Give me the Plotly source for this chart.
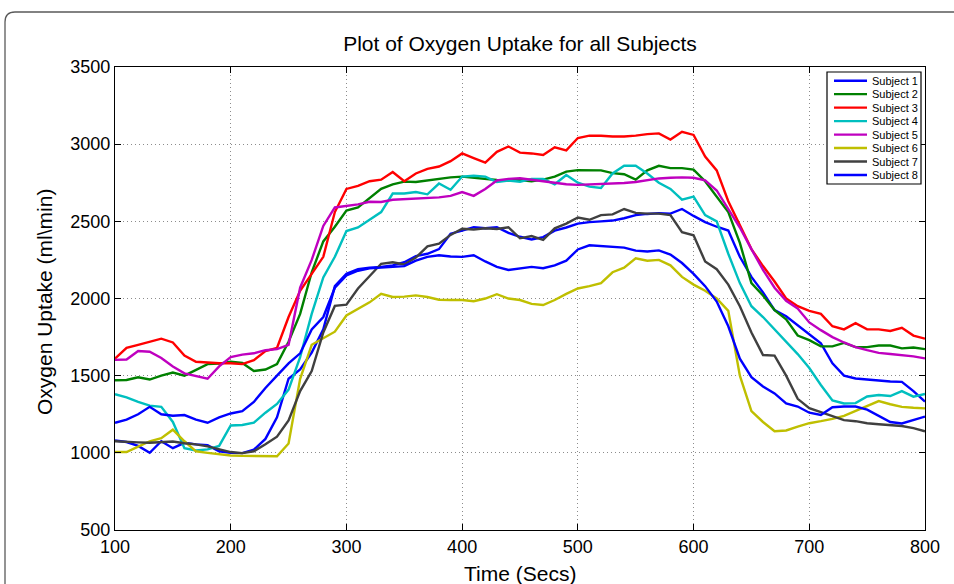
import plotly.graph_objects as go

time_s = list(range(100, 801, 10))

subject1 = [1080, 1070, 1045, 1000, 1075, 1030, 1065, 1055, 1050, 1010, 1000, 998, 1020, 1090, 1230, 1480,
            1540, 1650, 1800, 2080, 2160, 2190, 2200, 2205, 2215, 2235, 2275, 2290, 2320, 2420, 2440, 2462,
            2455, 2462, 2425, 2400, 2382, 2398, 2440, 2460, 2485, 2495, 2500, 2505, 2520, 2540, 2548, 2553,
            2550, 2580, 2535, 2495, 2465, 2440, 2270, 2140, 2040, 1925, 1885, 1825, 1770, 1710, 1580, 1500,
            1482, 1475, 1468, 1462, 1460, 1400, 1332]
subject2 = [1470, 1472, 1490, 1475, 1500, 1520, 1500, 1540, 1575, 1578, 1590, 1582, 1530, 1540, 1575, 1720,
            1900, 2170, 2370, 2465, 2570, 2590, 2650, 2710, 2740, 2757, 2755, 2765, 2778, 2785, 2790, 2782,
            2776, 2768, 2765, 2768, 2760, 2770, 2790, 2822, 2832, 2830, 2830, 2812, 2805, 2770, 2830, 2860,
            2845, 2845, 2835, 2760, 2660, 2560, 2360, 2100, 2020, 1925, 1865, 1760, 1730, 1690, 1690, 1712,
            1685, 1685, 1695, 1695, 1677, 1682, 1672]
subject3 = [1610, 1680, 1700, 1720, 1740, 1715, 1630, 1590, 1585, 1580, 1580, 1575, 1600, 1660, 1680, 1880,
            2050, 2160, 2270, 2560, 2710, 2730, 2760, 2770, 2820, 2760, 2810, 2840, 2855, 2890, 2940, 2910,
            2880, 2950, 2985, 2945, 2940, 2930, 2980, 2960, 3040, 3055, 3055, 3050, 3050, 3055, 3065, 3070,
            3030, 3080, 3060, 2920, 2830, 2630, 2470, 2320, 2210, 2110, 2000, 1950, 1920, 1900, 1820, 1800,
            1840, 1800, 1800, 1790, 1810, 1760, 1740]
subject4 = [1380, 1360, 1330, 1306, 1298, 1200, 1030, 1015, 1022, 1045, 1177, 1180, 1195, 1260, 1317, 1410,
            1620, 1900, 2136, 2270, 2437, 2460, 2510, 2560, 2680, 2680, 2690, 2675, 2745, 2705, 2790, 2795,
            2790, 2755, 2765, 2757, 2775, 2775, 2740, 2800, 2750, 2725, 2716, 2810, 2860, 2860, 2810, 2750,
            2710, 2640, 2660, 2540, 2500, 2290, 2100, 1950, 1880, 1800, 1720, 1640, 1550, 1440, 1340, 1320,
            1322, 1365, 1375, 1368, 1400, 1364, 1381]
subject5 = [1602, 1605, 1660, 1655, 1615, 1560, 1515, 1500, 1480, 1560, 1620, 1636, 1645, 1665, 1672, 1700,
            2070, 2250, 2470, 2590, 2602, 2610, 2627, 2625, 2640, 2643, 2645, 2650, 2655, 2665, 2690, 2665,
            2710, 2765, 2775, 2779, 2770, 2760, 2748, 2740, 2736, 2738, 2740, 2745, 2748, 2755, 2765, 2778,
            2782, 2785, 2782, 2765, 2700, 2580, 2460, 2320, 2185, 2070, 1985, 1935, 1845, 1795, 1750, 1715,
            1685, 1665, 1648, 1640, 1633, 1625, 1612]
subject6 = [1005, 1005, 1040, 1075, 1095, 1150, 1075, 1010, 1000, 990, 983, 980, 978, 978, 978, 1060,
            1480, 1700, 1745, 1785, 1890, 1935, 1975, 2030, 2010, 2012, 2020, 2010, 1992, 1990, 1990, 1982,
            2000, 2028, 2000, 1990, 1965, 1958, 1990, 2030, 2065, 2080, 2100, 2170, 2200, 2260, 2245, 2250,
            2215, 2140, 2090, 2050, 2000, 1920, 1500, 1270, 1200, 1140, 1145, 1170, 1192, 1205, 1220, 1240,
            1270, 1300, 1335, 1315, 1298, 1292, 1288]
subject7 = [1075, 1070, 1068, 1065, 1070, 1073, 1062, 1055, 1042, 1022, 1005, 998, 1010, 1055, 1105, 1210,
            1400, 1530, 1780, 1952, 1960, 2065, 2145, 2225, 2235, 2220, 2265, 2338, 2355, 2412, 2452, 2447,
            2455, 2450, 2462, 2390, 2405, 2380, 2455, 2485, 2525, 2510, 2540, 2545, 2580, 2555, 2550, 2550,
            2540, 2430, 2410, 2240, 2190, 2090, 1950, 1780, 1634, 1630, 1500, 1350, 1290, 1265, 1240, 1212,
            1205, 1192, 1185, 1180, 1174, 1160, 1140]
subject8 = [1195, 1215, 1250, 1298, 1250, 1240, 1245, 1215, 1195, 1230, 1255, 1270, 1330, 1420, 1500, 1580,
            1645, 1800, 1880, 2070, 2150, 2180, 2195, 2200, 2205, 2210, 2245, 2270, 2280, 2272, 2270, 2280,
            2240, 2205, 2185, 2196, 2205, 2196, 2215, 2245, 2318, 2345, 2340, 2335, 2330, 2310, 2305, 2312,
            2285, 2230, 2160, 2080, 1980, 1820, 1610, 1490, 1430, 1385, 1320, 1300, 1260, 1245, 1295, 1300,
            1300, 1280, 1240, 1200, 1190, 1210, 1235]

names = ["Subject 1", "Subject 2", "Subject 3", "Subject 4",
         "Subject 5", "Subject 6", "Subject 7", "Subject 8"]
series = [subject1, subject2, subject3, subject4, subject5, subject6, subject7, subject8]
colors = ["#0000FF", "#008000", "#FF0000", "#00BFBF", "#BF00BF", "#BFBF00", "#404040", "#0000FF"]

x_ticks = [100, 200, 300, 400, 500, 600, 700, 800]
y_ticks = [500, 1000, 1500, 2000, 2500, 3000, 3500]

FONT = "Liberation Sans, Arial, Helvetica, sans-serif"

fig = go.Figure()
for name, ys, col in zip(names, series, colors):
    fig.add_trace(go.Scatter(x=time_s, y=ys, mode="lines", name=name,
                             line=dict(color=col, width=2.4), showlegend=False))

W, H = 954, 584
ML, MR, MT, MB = 115, 29, 67, 54
PW, PH = W - ML - MR, H - MT - MB


def px2paper(px, py):
    return (px - ML) / PW, (H - MB - py) / PH


# outer rounded frame of the figure panel
x0, yt = px2paper(5, 12)
x1, yb = px2paper(975, 605)
rx, ry = 10 / PW, 10 / PH
frame_path = f"M {x0},{yb} L {x0},{yt - ry} Q {x0},{yt} {x0 + rx},{yt} L {x1},{yt}"
shapes = [dict(type="path", path=frame_path, xref="paper", yref="paper",
               line=dict(color="#5a5a5a", width=1.3), layer="below")]
annotations = []

# MATLAB-style compact legend box
LG_L, LG_R, LG_T, LG_B = 827, 921, 72, 184
ROW0, ROWSTEP = 80.7, 13.47
lx0, ly0 = px2paper(LG_L, LG_T)
lx1, ly1 = px2paper(LG_R, LG_B)
shapes.append(dict(type="rect", xref="paper", yref="paper", x0=lx0, x1=lx1, y0=ly1, y1=ly0,
                   line=dict(color="black", width=1.2), fillcolor="white", layer="above"))
for i, (name, col) in enumerate(zip(names, colors)):
    ry_px = ROW0 + i * ROWSTEP
    sx0, sy = px2paper(834, ry_px)
    sx1, _ = px2paper(867, ry_px)
    shapes.append(dict(type="line", xref="paper", yref="paper", x0=sx0, x1=sx1, y0=sy, y1=sy,
                       line=dict(color=col, width=2.4), layer="above"))
    tx, _ = px2paper(869.5, ry_px)
    annotations.append(dict(text=name, xref="paper", yref="paper", x=tx, y=sy,
                            xanchor="left", yanchor="middle", showarrow=False,
                            font=dict(family=FONT, size=11, color="black")))

annotations += [
    dict(text="Time (Secs)", xref="paper", yref="paper", x=0.5, y=px2paper(0, 573)[1],
         xanchor="center", yanchor="middle", showarrow=False,
         font=dict(family=FONT, size=21, color="black")),
    dict(text="Oxygen Uptake (ml\\min)", xref="paper", yref="paper", x=px2paper(44, 0)[0],
         y=px2paper(0, 302)[1], xanchor="center", yanchor="middle", textangle=-90, showarrow=False,
         font=dict(family=FONT, size=21, color="black")),
]

axis_common = dict(showline=True, linecolor="black", linewidth=1.2, mirror="ticks",
                   ticks="inside", ticklen=6, tickcolor="black", tickwidth=1,
                   showgrid=True, gridcolor="#8c8c8c", griddash="1px,3px", gridwidth=1,
                   zeroline=False, tickfont=dict(family=FONT, size=18, color="black"))

fig.update_layout(
    width=W, height=H, margin=dict(l=ML, r=MR, t=MT, b=MB, autoexpand=False),
    paper_bgcolor="white", plot_bgcolor="white",
    font=dict(family=FONT, color="black"),
    title=dict(text="Plot of Oxygen Uptake for all Subjects", x=(ML + PW / 2) / W, xanchor="center",
               y=1 - 44 / H, yanchor="middle", font=dict(family=FONT, size=21, color="black")),
    xaxis=dict(range=[100, 800], tickvals=x_ticks, **axis_common),
    yaxis=dict(range=[500, 3500], tickvals=y_ticks, **axis_common),
    showlegend=False,
    shapes=shapes,
    annotations=annotations,
)

fig.write_html("out.html", config={"displayModeBar": False},
               post_script="document.body.style.margin='0';document.body.style.overflow='hidden';")
